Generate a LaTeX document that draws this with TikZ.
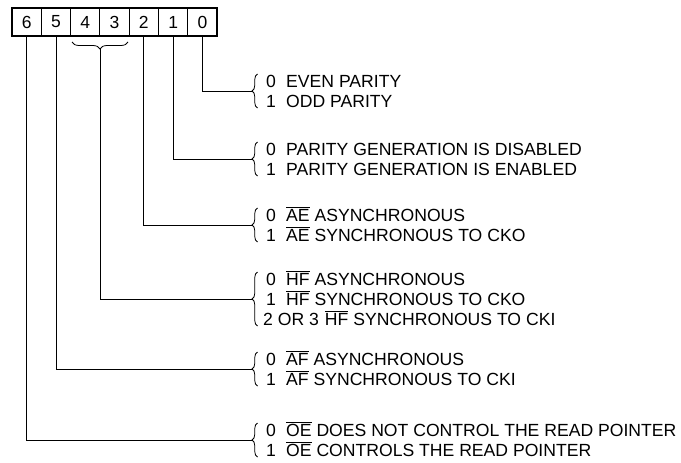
\documentclass[tikz,border=0pt]{standalone}
\usepackage{fontspec}
\setmainfont{Liberation Sans}
\usetikzlibrary{decorations.pathreplacing}
\newcommand\ovl[1]{$\overline{\hbox{#1}}$}
\newcommand\itm[2]{\makebox[20pt][l]{#1}#2}
\begin{document}
\begin{tikzpicture}[x=1pt,y=-1pt,
  cell/.style={draw,line width=0.9pt,minimum width=29.3pt,minimum height=28pt,inner sep=0pt,outer sep=0pt,font=\fontsize{17.5}{20}\selectfont},
  txt/.style={anchor=base west,inner sep=0pt,font=\fontsize{17.6}{20}\selectfont},
  wire/.style={line width=0.9pt},
  brc/.style={line width=0.8pt,decorate,decoration={brace,amplitude=5.5pt}}]
\useasboundingbox (0,0) rectangle (681,463);
% register cells
\node[cell] (c6) at (26.65,22) {6};
\node[cell] (c5) at (55.95,22) {5};
\node[cell] (c4) at (85.25,22) {4};
\node[cell] (c3) at (114.55,22) {3};
\node[cell] (c2) at (143.85,22) {2};
\node[cell] (c1) at (173.15,22) {1};
\node[cell] (c0) at (202.45,22) {0};
\draw[line width=1.8pt] (c6.north west) rectangle (c0.south east);
% brace under bits 4 and 3
\coordinate (bl) at (72,42);
\coordinate (br) at (128,42);
\draw[brc,decoration={amplitude=7pt}] (br) -- (bl);
\coordinate (b43) at (100,49);
% brace tips
\coordinate (t0) at (252,91);
\coordinate (t1) at (252,159);
\coordinate (t2) at (252,225);
\coordinate (t3) at (252,299);
\coordinate (t4) at (252,369);
\coordinate (t5) at (252,440);
% connectors
\draw[wire] (c0.south) |- (t0);
\draw[wire] (c1.south) |- (t1);
\draw[wire] (c2.south) |- (t2);
\draw[wire] (b43) |- (t3);
\draw[wire] (c5.south) |- (t4);
\draw[wire] (c6.south) |- (t5);
% group braces
\coordinate (u0) at (257.5,74);  \coordinate (d0) at (257.5,108);
\coordinate (u1) at (257.5,142); \coordinate (d1) at (257.5,176);
\coordinate (u2) at (257.5,208); \coordinate (d2) at (257.5,242);
\coordinate (u3) at (257.5,272); \coordinate (d3) at (257.5,326);
\coordinate (u4) at (257.5,352); \coordinate (d4) at (257.5,386);
\coordinate (u5) at (257.5,423); \coordinate (d5) at (257.5,457);
\foreach \i in {0,...,5} {\draw[brc] (d\i) -- (u\i);}
% texts
\node[txt] (g0a) at (266,87)  {\itm{0}{EVEN PARITY}};
\node[txt] (g0b) at (266,107) {\itm{1}{ODD PARITY}};
\node[txt] (g1a) at (266,155) {\itm{0}{PARITY GENERATION IS DISABLED}};
\node[txt] (g1b) at (266,175) {\itm{1}{PARITY GENERATION IS ENABLED}};
\node[txt] (g2a) at (266,221) {\itm{0}{\ovl{AE} ASYNCHRONOUS}};
\node[txt] (g2b) at (266,241) {\itm{1}{\ovl{AE} SYNCHRONOUS TO CKO}};
\node[txt] (g3a) at (266,285) {\itm{0}{\ovl{HF} ASYNCHRONOUS}};
\node[txt] (g3b) at (266,305) {\itm{1}{\ovl{HF} SYNCHRONOUS TO CKO}};
\node[txt] (g3c) at (263,325) {2 OR 3\hspace{6pt}\ovl{HF} SYNCHRONOUS TO CKI};
\node[txt] (g4a) at (266,365) {\itm{0}{\ovl{AF} ASYNCHRONOUS}};
\node[txt] (g4b) at (266,385) {\itm{1}{\ovl{AF} SYNCHRONOUS TO CKI}};
\node[txt] (g5a) at (266,436) {\itm{0}{\ovl{OE} DOES NOT CONTROL THE READ POINTER}};
\node[txt] (g5b) at (266,456) {\itm{1}{\ovl{OE} CONTROLS THE READ POINTER}};
\end{tikzpicture}
\end{document}
